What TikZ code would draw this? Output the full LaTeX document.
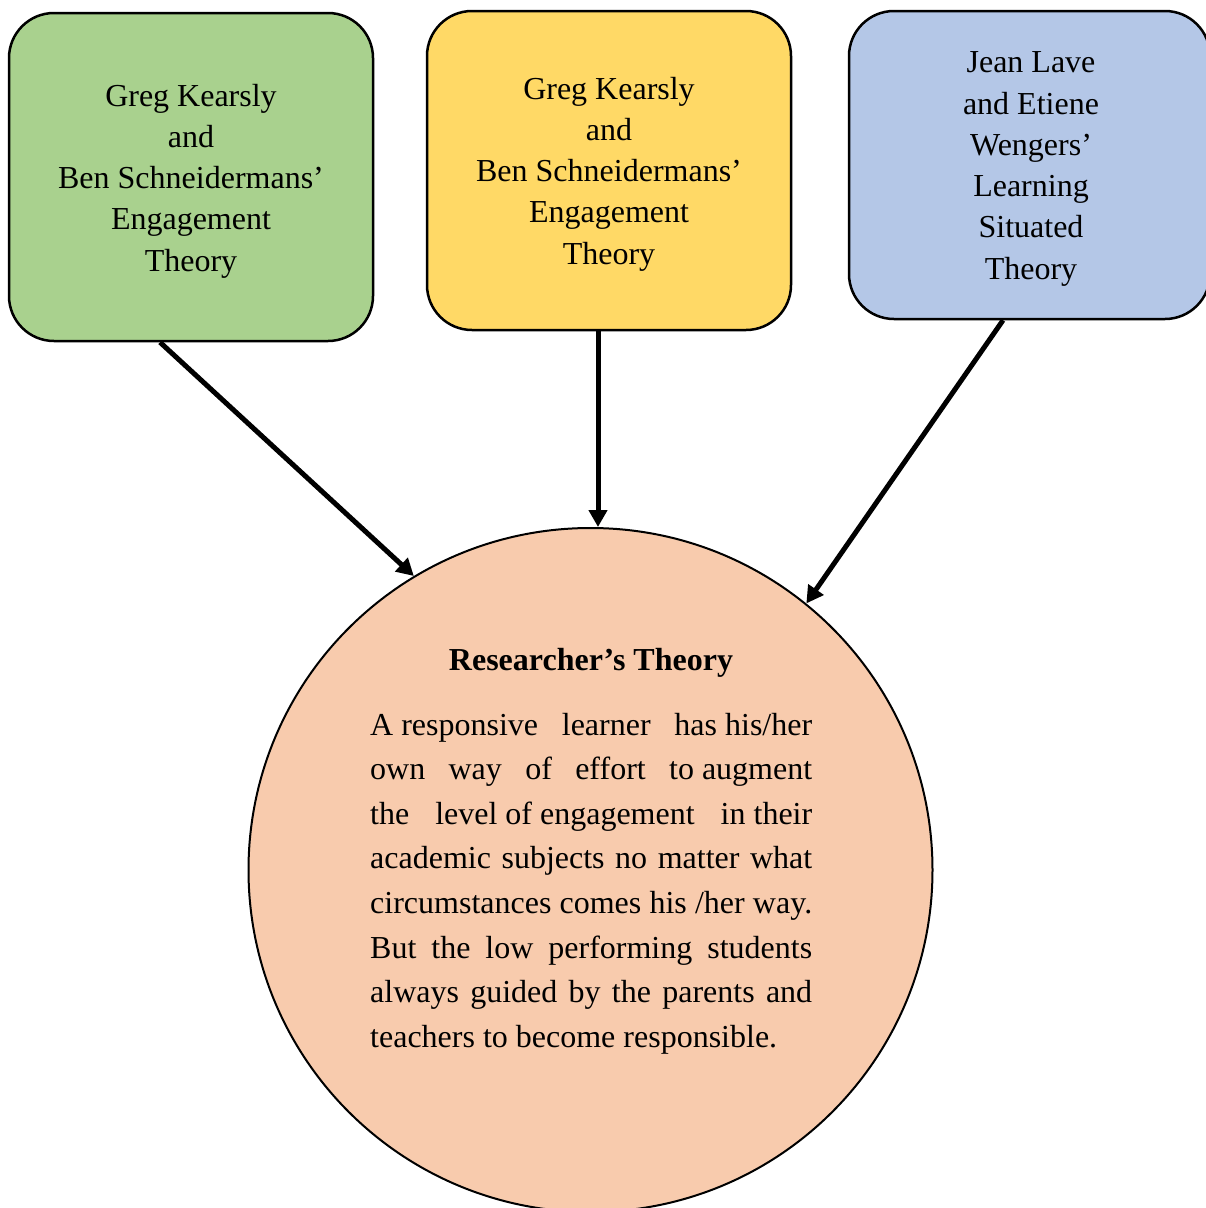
\documentclass[tikz,border=0pt]{standalone}
\usepackage{fontspec}
\setmainfont{Liberation Serif}
\usetikzlibrary{arrows.meta,calc}
\definecolor{boxgreen}{HTML}{A9D18E}
\definecolor{boxyellow}{HTML}{FFD966}
\definecolor{boxblue}{HTML}{B4C7E7}
\definecolor{peach}{HTML}{F8CBAD}
\begin{document}
\begin{tikzpicture}[x=1pt,y=-1pt,
  theorybox/.style={draw=black, line width=2.5pt, rounded corners=45pt, inner sep=0pt},
  boxtext/.style={align=center, inner sep=0pt, font=\fontsize{32}{41.3}\selectfont},
  linkarrow/.style={line width=5pt, -{Triangle[length=17pt,width=18pt]}},
  bodyline/.style={anchor=base west, inner sep=0pt, font=\fontsize{32}{38}\selectfont}]
\useasboundingbox (0,0) rectangle (1206,1208);
% central circle
\node[circle, draw=black, line width=2pt, fill=peach, minimum size=684pt, inner sep=0pt] (circ) at (590.5,870) {};
% source boxes
\node[theorybox, fill=boxgreen, minimum width=364pt, minimum height=328pt] (green) at (191,177) {};
\node[theorybox, fill=boxyellow, minimum width=364pt, minimum height=319pt] (yellow) at (609,170.5) {};
\node[theorybox, fill=boxblue, minimum width=361pt, minimum height=308pt] (blue) at (1029.5,165) {};
\node[boxtext] (greentext) at ($(green.center)+(0,4)$)
  {Greg Kearsly\\and\\Ben Schneidermans’\\Engagement\\Theory};
\node[boxtext] (yellowtext) at ($(yellow.center)+(0,3.5)$)
  {Greg Kearsly\\and\\Ben Schneidermans’\\Engagement\\Theory};
\node[boxtext] (bluetext) at ($(blue.center)+(1.5,4)$)
  {Jean Lave\\and Etiene\\Wengers’\\Learning\\Situated\\Theory};
% circle text
\node[anchor=base, inner sep=0pt, font=\bfseries\fontsize{32}{38}\selectfont] (title) at (591,670) {Researcher’s Theory};
\node[bodyline] (l1) at (370,735.0) {\makebox[442pt][s]{A responsive\hfill learner\hfill has his/her}};
\node[bodyline] (l2) at (370,779.6) {\makebox[442pt][s]{own\hfill way\hfill of\hfill effort\hfill to augment}};
\node[bodyline] (l3) at (370,824.2) {\makebox[442pt][s]{the\hfill level of engagement\hfill in their}};
\node[bodyline] (l4) at (370,868.8) {\makebox[442pt][s]{academic subjects no matter what}};
\node[bodyline] (l5) at (370,913.4) {\makebox[442pt][s]{circumstances comes his /her way.}};
\node[bodyline] (l6) at (370,958.0) {\makebox[442pt][s]{But the low performing students}};
\node[bodyline] (l7) at (370,1002.6) {\makebox[442pt][s]{always guided by the parents and}};
\node[bodyline] (l8) at (370,1047.2) {teachers to become responsible.};
% connectors
\coordinate (ystart) at ($(yellow.south)+(-11,0)$);
\draw[linkarrow] ($(green.south)+(-31,0)$) -- (circ.121.5);
\draw[linkarrow] (ystart) -- (ystart |- circ.north);
\draw[linkarrow] ($(blue.south)+(-26.5,0)$) -- (circ.51.4);
\end{tikzpicture}
\end{document}
